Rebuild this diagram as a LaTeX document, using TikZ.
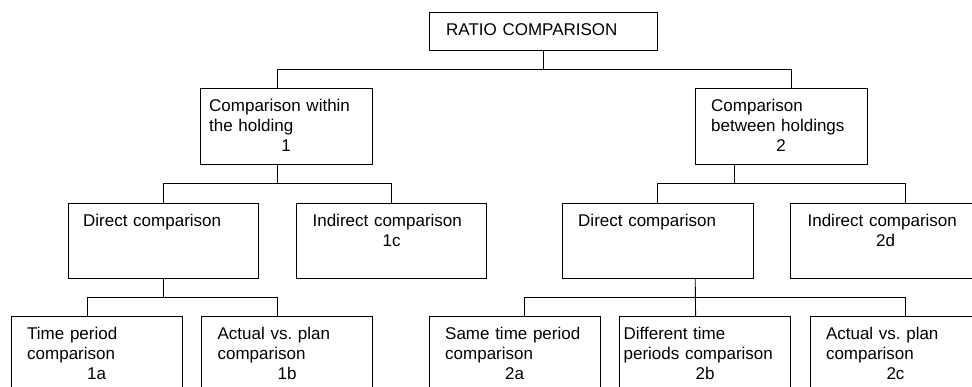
\documentclass[tikz,border=0pt]{standalone}
\usepackage{fontspec}
\setmainfont{Liberation Sans}
\usetikzlibrary{positioning}
\newcommand{\boxnum}[1]{\makebox[\linewidth]{#1}}

\begin{document}
\begin{tikzpicture}[x=1pt,y=-1pt,
  box/.style={draw,rectangle,anchor=north west,align=left,inner ysep=0pt,inner xsep=16pt,
              font=\fontsize{17}{20}\selectfont\frenchspacing,text height=23pt,text depth=53pt},
  wire/.style={line width=0.9pt}]
\clip (0,0) rectangle (972,386);
\node[box,inner xsep=17pt,text width=194pt,text depth=15pt] (ratio) at (429,12) {RATIO COMPARISON};
\node[box,inner xsep=9pt,text width=154pt] (within) at (200,88) {Comparison within\\the holding\\\boxnum{1}};
\node[box,text width=140pt] (between) at (695,88) {Comparison\\between holdings\\\boxnum{2}};
\node[box,inner xsep=15pt,text width=160pt,text depth=52pt] (dir1) at (68,203) {Direct comparison};
\node[box,text width=158pt,text depth=52pt,right=38pt of dir1] (ind1) {Indirect comparison\\\boxnum{1c}};
\node[box,text width=159pt,text depth=52pt] (dir2) at (562,203) {Direct comparison};
\node[box,inner xsep=17pt,text width=156pt,text depth=52pt,right=37pt of dir2] (ind2) {Indirect comparison\\\boxnum{2d}};
\node[box,text width=139pt] (tp1) at (11,316) {Time period\\comparison\\\boxnum{1a}};
\node[box,text width=139pt,right=19pt of tp1] (avp1) {Actual vs. plan\\comparison\\\boxnum{1b}};
\node[box,text width=139pt] (same2) at (429,316) {Same time period\\comparison\\\boxnum{2a}};
\node[box,inner xsep=4pt,text width=163pt,right=19pt of same2] (diff2) {Different time\\periods comparison\\\boxnum{2b}};
\node[box,text width=139pt,right=19pt of diff2] (avp2) {Actual vs. plan\\comparison\\\boxnum{2c}};
% first level
\draw[wire] ([xshift=-9pt]within.north) -- ++(0,-19) coordinate (bus0) -| ([xshift=10pt]between.north);
\draw[wire] (ratio.south) -- (ratio.south |- bus0);
% second level
\draw[wire] (dir1.north) -- ++(0,-20) coordinate (bus1) -| (ind1.north);
\draw[wire] ([xshift=-9pt]within.south) -- ([xshift=-9pt]within.south |- bus1);
\draw[wire] (dir2.north) -- ++(0,-20) coordinate (bus2) -| ([xshift=115pt]ind2.north west);
\draw[wire] ([xshift=-47pt]between.south) -- ([xshift=-47pt]between.south |- bus2);
% third level
\draw[wire] ([xshift=-9.5pt]tp1.north) -- ++(0,-19) coordinate (bus3) -| ([xshift=-9.5pt]avp1.north);
\draw[wire] (dir1.south) -- (dir1.south |- bus3);
\draw[wire] ([xshift=9.5pt]same2.north) -- ++(0,-19) coordinate (bus4) -| ([xshift=10pt]avp2.north);
\draw[wire] ([xshift=37.5pt]dir2.south) -- ([xshift=-9.5pt]diff2.north);
\end{tikzpicture}
\end{document}
